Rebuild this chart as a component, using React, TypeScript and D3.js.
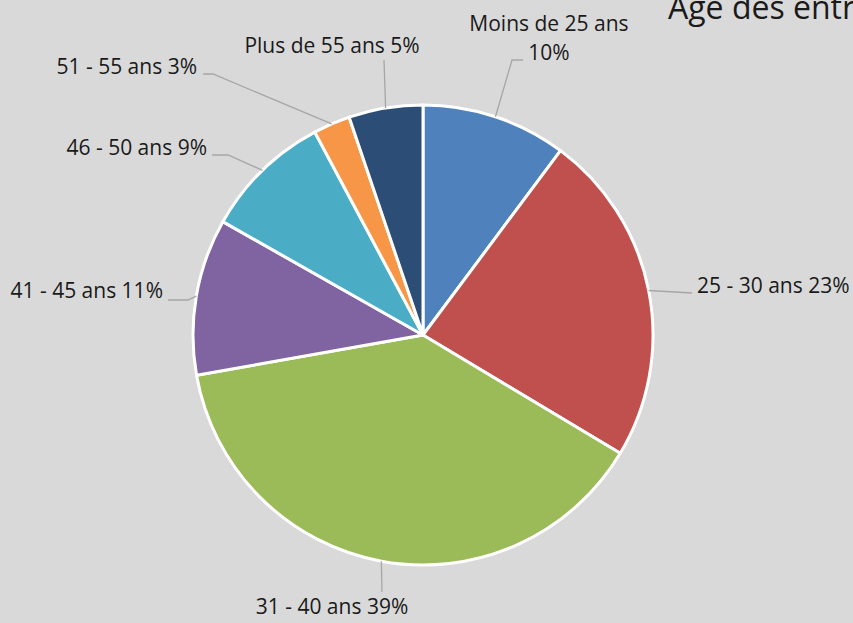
import React from "react";
import * as d3 from "d3";

const categories = [
  "Moins de 25 ans",
  "25 - 30 ans",
  "31 - 40 ans",
  "41 - 45 ans",
  "46 - 50 ans",
  "51 - 55 ans",
  "Plus de 55 ans",
];
const values = [10.2, 23.4, 38.6, 11.0, 9.0, 2.6, 5.2];
const colors = ["#4F81BD", "#C0504D", "#9BBB59", "#8064A2", "#4BACC6", "#F79646", "#2C4D75"];
const title = "Âge des entreprises";

// label layout: text anchor position, alignment, leader elbow points
const labelLayout = [
  { x: 549, y: 31, anchor: "middle", twoLine: true, elbow: [[512, 60], [523, 60]] },
  { x: 697, y: 293, anchor: "start", twoLine: false, elbow: [[692, 293]] },
  { x: 332, y: 614, anchor: "middle", twoLine: false, elbow: [[382, 592]] },
  { x: 163, y: 298, anchor: "end", twoLine: false, elbow: [[188, 300], [168, 300]] },
  { x: 207, y: 155, anchor: "end", twoLine: false, elbow: [[228, 155], [212, 155]] },
  { x: 197, y: 74, anchor: "end", twoLine: false, elbow: [[213, 74], [203, 74]] },
  { x: 332, y: 53, anchor: "middle", twoLine: false, elbow: [[384, 60]] },
];

const W = 853;
const H = 623;
const cx = 423;
const cy = 335;
const R = 230;
const FONT = "'Open Sans', 'Noto Sans', sans-serif";

export default function App() {
  const total = d3.sum(values);
  const pie = d3.pie<number>().sort(null).value((d) => d);
  const arcs = pie(values);
  const arc = d3.arc<d3.PieArcDatum<number>>().innerRadius(0).outerRadius(R);

  return (
    <svg
      width={W}
      height={H}
      style={{ position: "fixed", left: 0, top: 0, background: "#D9D9D9" }}
    >
      <rect x={0} y={0} width={W} height={H} fill="#D9D9D9" />
      <g transform={`translate(${cx},${cy})`}>
        {arcs.map((a, i) => (
          <path key={i} d={arc(a) || ""} fill={colors[i]} stroke="#FFFFFF" strokeWidth={3} strokeLinejoin="round" />
        ))}
      </g>
      {arcs.map((a, i) => {
        const mid = (a.startAngle + a.endAngle) / 2;
        const ex = cx + R * Math.sin(mid);
        const ey = cy - R * Math.cos(mid);
        const L = labelLayout[i];
        const pts = [[ex, ey], ...L.elbow];
        const line = d3.line()(pts as [number, number][]) || "";
        return <path key={"l" + i} d={line} fill="none" stroke="#A6A6A6" strokeWidth={1.3} />;
      })}
      {arcs.map((a, i) => {
        const L = labelLayout[i];
        const pct = Math.round((values[i] / total) * 100) + "%";
        if (L.twoLine) {
          return (
            <text key={"t" + i} x={L.x} y={L.y} textAnchor={L.anchor as any} fontFamily={FONT} fontSize={21} fill="#1A1A1A">
              <tspan x={L.x} y={L.y}>{categories[i]}</tspan>
              <tspan x={L.x} y={L.y + 29}>{pct}</tspan>
            </text>
          );
        }
        return (
          <text key={"t" + i} x={L.x} y={L.y} textAnchor={L.anchor as any} fontFamily={FONT} fontSize={21} fill="#1A1A1A">
            {categories[i] + " " + pct}
          </text>
        );
      })}
      <text x={668} y={19} fontFamily={FONT} fontSize={32} fill="#1A1A1A">{title}</text>
    </svg>
  );
}
